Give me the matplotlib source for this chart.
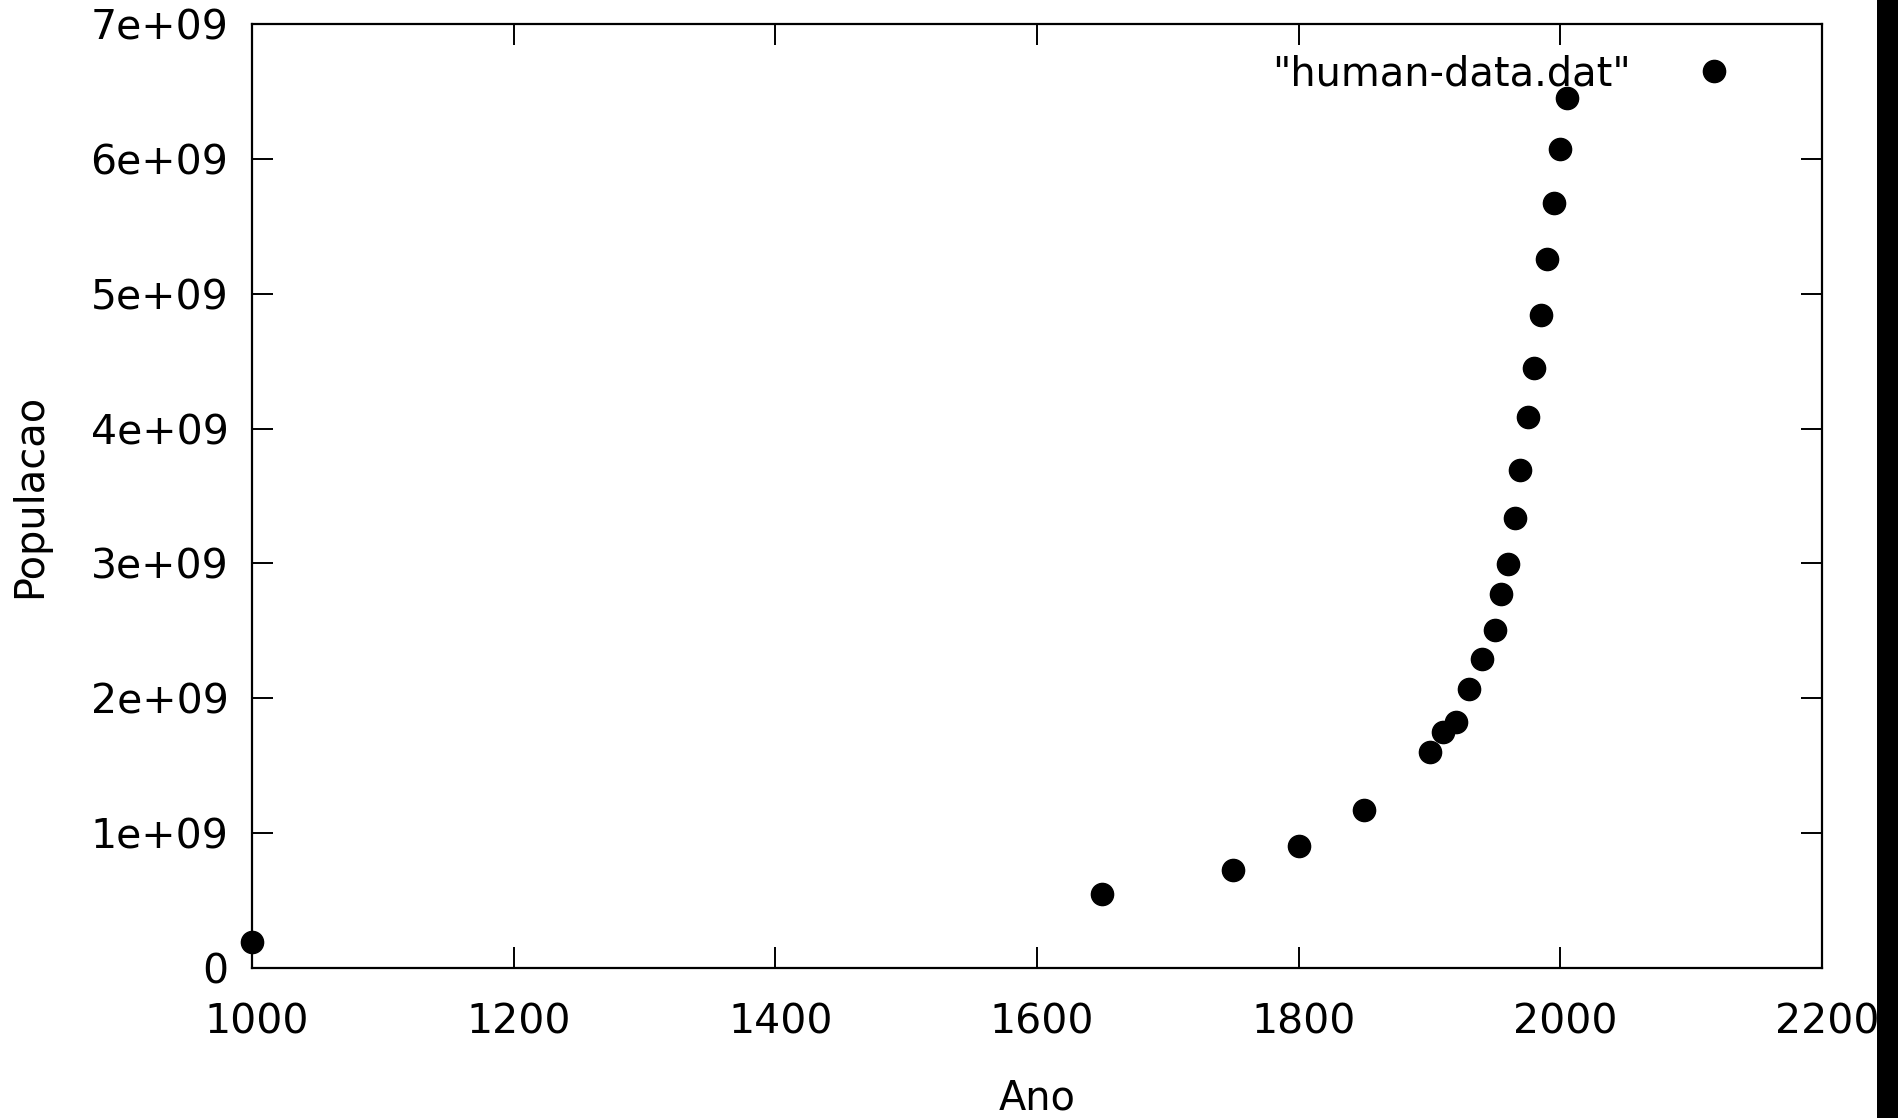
#!/usr/bin/env python3
"""
World population over time, plotted from human-data.dat.
"""

import matplotlib
matplotlib.use('Agg')
import matplotlib.pyplot as plt
from matplotlib.patches import Rectangle
from matplotlib.ticker import FuncFormatter
from matplotlib.transforms import ScaledTranslation

# Data
years = [1000, 1650, 1750, 1800, 1850, 1900, 1910, 1920, 1930, 1940,
         1950, 1955, 1960, 1965, 1969, 1975, 1980, 1985, 1990, 1995,
         2000, 2005]
population = [0.19e9, 0.546e9, 0.727e9, 0.905e9, 1.172e9, 1.604e9,
              1.750e9, 1.824e9, 2.066e9, 2.289e9, 2.506e9, 2.773e9,
              2.996e9, 3.339e9, 3.695e9, 4.083e9, 4.451e9, 4.842e9,
              5.257e9, 5.670e9, 6.073e9, 6.449e9]

x_ticks = [1000, 1200, 1400, 1600, 1800, 2000, 2200]
y_ticks = [0, 1e9, 2e9, 3e9, 4e9, 5e9, 6e9, 7e9]

W, H = 1898, 1118
FS = 29.5        # tick labels
FS_TXT = 28.7    # axis labels and key

fig = plt.figure(figsize=(W / 100, H / 100), dpi=100)
ax = fig.add_axes([252 / W, (H - 968) / H, 1570 / W, 944 / H])

ax.plot(years, population, linestyle='none', marker='o', markersize=16,
        color='black', label='"human-data.dat"', clip_on=False, zorder=3)

ax.set_xlim(1000, 2200)
ax.set_ylim(0, 7e9)
ax.set_xticks(x_ticks)
ax.set_yticks(y_ticks)
ax.yaxis.set_major_formatter(FuncFormatter(lambda v, pos: '%g' % v))

ax.tick_params(direction='in', length=15, width=1.4, top=True, right=True,
               labelsize=FS, colors='black')
ax.tick_params(axis='x', pad=25)
ax.tick_params(axis='y', pad=17)
for spine in ax.spines.values():
    spine.set_linewidth(1.6)

# gnuplot puts the x labels a few pixels right of the tick
shift = ScaledTranslation(5 / 100, 0, fig.dpi_scale_trans)
for lbl in ax.get_xticklabels():
    lbl.set_transform(lbl.get_transform() + shift)

ax.set_xlabel('Ano', fontsize=FS_TXT, labelpad=26)
ax.set_ylabel('Populacao', fontsize=FS_TXT)
ax.yaxis.set_label_coords(-0.1285, 0.5)

ax.legend(loc='center right', bbox_to_anchor=(0.9567, 0.947),
          frameon=False, markerfirst=False, fontsize=FS_TXT, handlelength=2,
          handletextpad=1.08, borderpad=0, borderaxespad=0, numpoints=1)

# black strip along the right edge of the image
fig.patches.append(Rectangle((1877 / W, 0), 1 - 1877 / W, 1,
                             transform=fig.transFigure, facecolor='black',
                             edgecolor='none', zorder=10))

fig.savefig('out.png', dpi=100)
